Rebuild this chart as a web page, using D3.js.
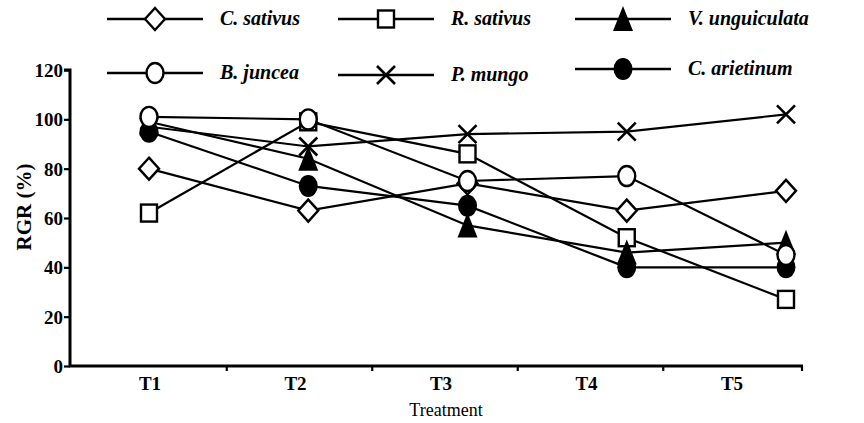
<!DOCTYPE html>
<html><head><meta charset="utf-8">
<script src="https://cdn.jsdelivr.net/npm/d3@7/dist/d3.min.js"></script>
<style>body{margin:0;background:#fff}svg{display:block}</style>
</head><body>
<svg id="c" width="864" height="423"></svg>
<script>
const treatments = ["T1","T2","T3","T4","T5"];
const seriesNames = ["C. sativus","R. sativus","V. unguiculata","B. juncea","P. mungo","C. arietinum"];
const cSativus = [80, 63, 74, 63, 71];
const rSativus = [62, 99, 86, 52, 27];
const vUnguiculata = [99, 84, 57, 46, 50];
const bJuncea = [101, 100, 75, 77, 45];
const pMungo = [97, 89, 94, 95, 102];
const cArietinum = [95, 73, 65, 40, 40];
const yTicks = [0, 20, 40, 60, 80, 100, 120];

const markers = {"C. sativus":"diamond","R. sativus":"square","V. unguiculata":"triangle","B. juncea":"circle","P. mungo":"cross","C. arietinum":"dot"};
const values = {"C. sativus":cSativus,"R. sativus":rSativus,"V. unguiculata":vUnguiculata,"B. juncea":bJuncea,"P. mungo":pMungo,"C. arietinum":cArietinum};
const drawOrder = ["R. sativus","C. sativus","P. mungo","C. arietinum","V. unguiculata","B. juncea"];

const svg = d3.select("#c");
const y = d3.scaleLinear().domain([0,120]).range([366,70]);
const xData = d3.scalePoint().domain(treatments).range([149,786]);
const xLab = d3.scalePoint().domain(treatments).range([150,732]);
const font = '"Liberation Serif", "Times New Roman", serif';

function drawMarker(g, type, cx, cy){
  if(type==="diamond"){
    g.append("path").attr("d",`M${cx},${cy-11}L${cx+10},${cy}L${cx},${cy+11}L${cx-10},${cy}Z`)
     .attr("fill","#fff").attr("stroke","#000").attr("stroke-width",2.4);
  } else if(type==="square"){
    g.append("rect").attr("x",cx-8).attr("y",cy-8.5).attr("width",16).attr("height",17)
     .attr("fill","#fff").attr("stroke","#000").attr("stroke-width",2.4);
  } else if(type==="triangle"){
    g.append("path").attr("d",`M${cx},${cy-13}L${cx+10},${cy+12}L${cx-10},${cy+12}Z`).attr("fill","#000");
  } else if(type==="circle"){
    g.append("ellipse").attr("cx",cx).attr("cy",cy).attr("rx",8.5).attr("ry",10)
     .attr("fill","#fff").attr("stroke","#000").attr("stroke-width",2.4);
  } else if(type==="cross"){
    g.append("path").attr("d",`M${cx-9},${cy-9}L${cx+9},${cy+9}M${cx+9},${cy-9}L${cx-9},${cy+9}`)
     .attr("stroke","#000").attr("stroke-width",2.6);
  } else if(type==="dot"){
    g.append("ellipse").attr("cx",cx).attr("cy",cy).attr("rx",9.5).attr("ry",11).attr("fill","#000");
  }
}

// Y axis
const yAxis = d3.axisLeft(y).tickValues(yTicks).tickSize(6).tickPadding(1);
const gy = svg.append("g").attr("transform","translate(70,0)").call(yAxis);
gy.attr("font-family", null);
gy.select(".domain").attr("stroke-width",3).attr("d",`M-6,${y(120)}H0V${y(0)}`);
gy.selectAll(".tick line").attr("stroke-width",2.2);
gy.selectAll("text").style("font-family",font).style("font-weight","bold").style("font-size","19px").attr("fill","#000").attr("dy","0.34em");

// X axis
const gx = svg.append("g");
gx.append("line").attr("x1",69).attr("x2",803).attr("y1",y(0)).attr("y2",y(0)).attr("stroke","#000").attr("stroke-width",3);
const bounds = treatments.slice(1).map((t,i)=> (xLab(treatments[i])+xLab(t))/2 + 4).concat([802]);
gx.selectAll("line.t").data(bounds).join("line").attr("class","t")
  .attr("x1",d=>d).attr("x2",d=>d).attr("y1",y(0)).attr("y2",y(0)+5).attr("stroke","#000").attr("stroke-width",2.2);
gx.selectAll("text.l").data(treatments).join("text").attr("class","l")
  .attr("x",d=>xLab(d)).attr("y",390).attr("text-anchor","middle")
  .style("font-family",font).style("font-weight","bold").style("font-size","19px").text(d=>d);
svg.append("text").attr("x",446).attr("y",416).attr("text-anchor","middle")
  .style("font-family",font).style("font-size","18px").text("Treatment");
svg.append("text").attr("transform","translate(31,207) rotate(-90)").attr("text-anchor","middle")
  .style("font-family",font).style("font-weight","bold").style("font-size","21px").text("RGR (%)");

// Series
const line = d3.line().x((d,i)=>xData(treatments[i])).y(d=>y(d));
drawOrder.forEach(name=>{
  svg.append("path").attr("d",line(values[name])).attr("fill","none").attr("stroke","#000").attr("stroke-width",2.2);
});
drawOrder.forEach(name=>{
  const g = svg.append("g");
  values[name].forEach((v,i)=>drawMarker(g, markers[name], xData(treatments[i]), y(v)));
});

// Legend
const legX = [107, 338, 575];
const legYs = {"C. sativus":19,"R. sativus":19,"V. unguiculata":19,"B. juncea":73,"P. mungo":75,"C. arietinum":69};
seriesNames.forEach((name,i)=>{
  const col = i%3;
  const x0 = legX[col], yy = legYs[name];
  const g = svg.append("g");
  g.append("line").attr("x1",x0).attr("x2",x0+96).attr("y1",yy).attr("y2",yy).attr("stroke","#000").attr("stroke-width",2.4);
  drawMarker(g, markers[name], x0+48, yy);
  g.append("text").attr("x",x0+113).attr("y",yy+6).style("font-family",font)
    .style("font-style","italic").style("font-weight","bold").style("font-size","20px").text(name);
});
</script>
</body></html>
